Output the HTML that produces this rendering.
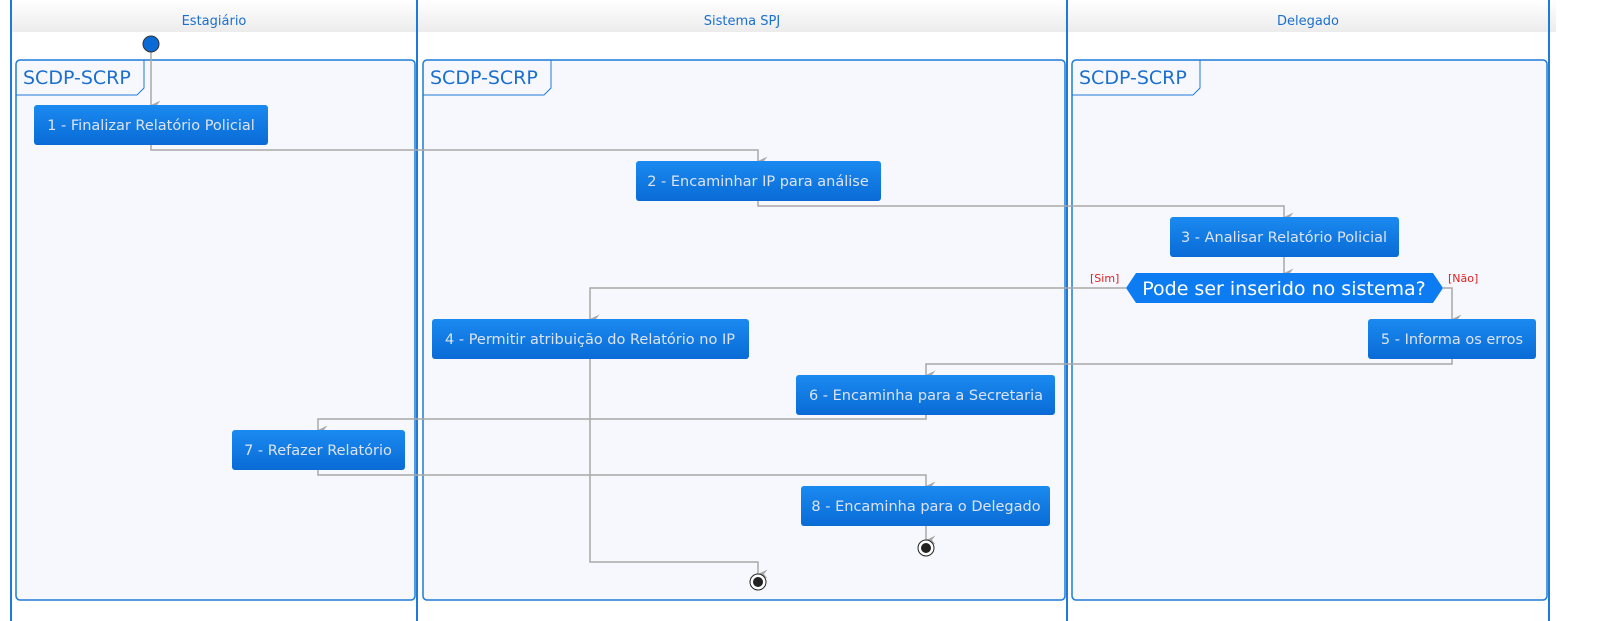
<!DOCTYPE html>
<html><head><meta charset="utf-8"><style>html,body{margin:0;padding:0;background:#fff;overflow:hidden}svg{display:block}text{font-family:"DejaVu Sans","Liberation Sans",sans-serif}</style></head><body>
<svg width="1600" height="621" viewBox="0 0 1600 621" xmlns="http://www.w3.org/2000/svg">
<defs>
<linearGradient id="hg" x1="0" y1="0" x2="0" y2="1"><stop offset="0" stop-color="#ffffff"/><stop offset="1" stop-color="#ececec"/></linearGradient>
<linearGradient id="bg" x1="0" y1="0" x2="0" y2="1"><stop offset="0" stop-color="#1a8af0"/><stop offset="1" stop-color="#0a6bd6"/></linearGradient>
<marker id="a" markerWidth="12" markerHeight="12" refX="5" refY="10" orient="auto" markerUnits="userSpaceOnUse"><path d="M0.5,0.5 L5,10 L9.5,0.5 L5,4 Z" fill="#a8a8a8"/></marker>
</defs>
<rect x="11" y="0" width="1545" height="32" fill="url(#hg)"/>
<text x="214" y="25" font-size="13" fill="#1a6fd0" text-anchor="middle">Estagiário</text>
<text x="742" y="25" font-size="13" fill="#1a6fd0" text-anchor="middle">Sistema SPJ</text>
<text x="1308" y="25" font-size="13" fill="#1a6fd0" text-anchor="middle">Delegado</text>
<g stroke="#1e7ad8" stroke-width="1.5" fill="#f7f8fd">
<rect x="16" y="60" width="399" height="540" rx="4"/>
<rect x="423" y="60" width="642" height="540" rx="4"/>
<rect x="1072" y="60" width="475" height="540" rx="4"/>
</g>
<g stroke="#1e7ad8" stroke-width="1" fill="none">
<path d="M16,95 H137 L144,88 V60"/>
<path d="M423,95 H544 L551,88 V60"/>
<path d="M1072,95 H1193 L1200,88 V60"/>
</g>
<g font-size="19" fill="#1a6fd0">
<text x="23" y="84">SCDP-SCRP</text>
<text x="430" y="84">SCDP-SCRP</text>
<text x="1079" y="84">SCDP-SCRP</text>
</g>
<g stroke="#1e7ad8" stroke-width="2">
<line x1="11" y1="0" x2="11" y2="621"/>
<line x1="417" y1="0" x2="417" y2="621"/>
<line x1="1067" y1="0" x2="1067" y2="621"/>
<line x1="1549" y1="0" x2="1549" y2="621"/>
</g>
<g stroke="#a8a8a8" stroke-width="1.5" fill="none" marker-end="url(#a)">
<path d="M151,52 V105"/>
<path d="M151,145 V150 H758 V161"/>
<path d="M758,201 V206 H1284 V217"/>
<path d="M1284,257 V273"/>
<path d="M1126,288 H590 V319"/>
<path d="M1443,288 H1452 V319"/>
<path d="M1452,359 V364 H926 V375"/>
<path d="M926,415 V419 H318 V430"/>
<path d="M318,470 V475 H926 V486"/>
<path d="M926,526 V540"/>
<path d="M590,359 V562 H758 V574"/>
</g>
<circle cx="151" cy="44" r="8" fill="#0a6bd6" stroke="#333" stroke-width="1"/>
<circle cx="926" cy="548" r="8" fill="#fff" stroke="#222" stroke-width="1"/><circle cx="926" cy="548" r="5" fill="#222"/>
<circle cx="758" cy="582" r="8" fill="#fff" stroke="#222" stroke-width="1"/><circle cx="758" cy="582" r="5" fill="#222"/>
<g fill="url(#bg)">
<rect x="34" y="105" width="234" height="40" rx="3"/>
<rect x="636" y="161" width="245" height="40" rx="3"/>
<rect x="1170" y="217" width="229" height="40" rx="3"/>
<rect x="432" y="319" width="317" height="40" rx="3"/>
<rect x="1368" y="319" width="168" height="40" rx="3"/>
<rect x="796" y="375" width="259" height="40" rx="3"/>
<rect x="232" y="430" width="173" height="40" rx="3"/>
<rect x="801" y="486" width="249" height="40" rx="3"/>
</g>
<polygon points="1126,288 1136,273 1433,273 1443,288 1433,303 1136,303" fill="#0d7cf2"/>
<g font-size="14.5" fill="#dde3ee" text-anchor="middle">
<text x="151" y="130">1 - Finalizar Relatório Policial</text>
<text x="758" y="186">2 - Encaminhar IP para análise</text>
<text x="1284" y="242">3 - Analisar Relatório Policial</text>
<text x="590" y="344">4 - Permitir atribuição do Relatório no IP</text>
<text x="1452" y="344">5 - Informa os erros</text>
<text x="926" y="400">6 - Encaminha para a Secretaria</text>
<text x="318" y="455">7 - Refazer Relatório</text>
<text x="926" y="511">8 - Encaminha para o Delegado</text>
</g>
<text x="1284" y="295" font-size="19" fill="#fff" text-anchor="middle">Pode ser inserido no sistema?</text>
<text x="1090" y="282" font-size="11" fill="#e02020">[Sim]</text>
<text x="1448" y="282" font-size="11" fill="#e02020">[Não]</text>
</svg>
</body></html>
